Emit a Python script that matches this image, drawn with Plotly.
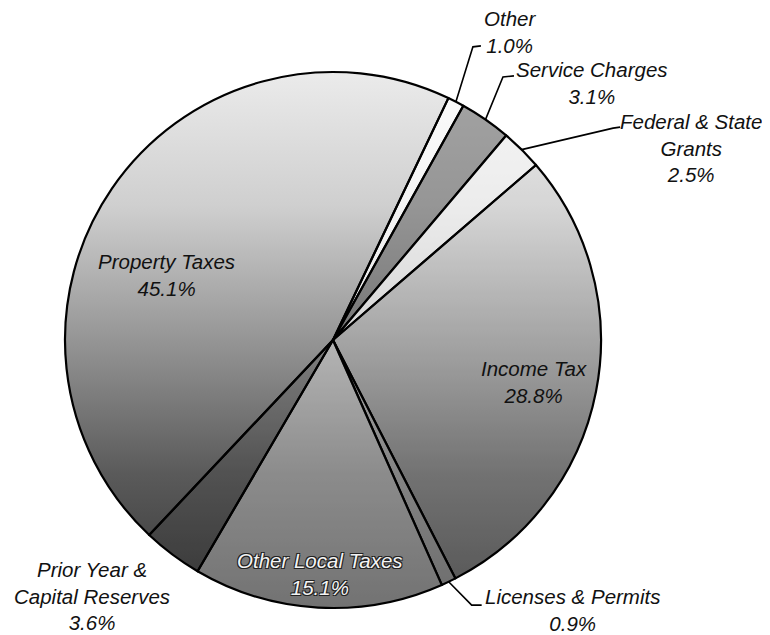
import numpy as np
import plotly.graph_objects as go

# ---------------- data ----------------
categories = ["Other", "Service Charges", "Federal & State Grants", "Income Tax",
              "Licenses & Permits", "Other Local Taxes",
              "Prior Year & Capital Reserves", "Property Taxes"]
values = [1.0, 3.1, 2.5, 28.8, 0.9, 15.1, 3.6, 45.1]
label_lines = ["Other", "Service Charges", "Federal & State<br>Grants", "Income Tax",
               "Licenses & Permits", "Other Local Taxes",
               "Prior Year &<br>Capital Reserves", "Property Taxes"]

# ---------------- styling ----------------
OFF = 8                      # page body margin in the browser
W, H = 770 - OFF, 635 - OFF
CX, CY, R = 333 - OFF, 340 - OFF, 268   # pie centre / radius in figure pixels
ROTATION = 25.5
slice_colors = ["rgba(255,255,255,0.78)", "rgba(80,80,80,0.45)", "rgba(255,255,255,0.6)",
                "rgba(255,255,255,0.15)", "rgba(210,210,210,0.35)", "rgba(255,255,255,0.3)",
                "rgba(50,50,50,0.2)", "rgba(0,0,0,0.0)"]

# label centres (screen pixels of the reference)
label_pos = {
    "Other": (510, 32),
    "Service Charges": (592, 83),
    "Federal & State Grants": (691, 148),
    "Income Tax": (534, 382),
    "Licenses & Permits": (572, 610),
    "Other Local Taxes": (320, 574),
    "Prior Year & Capital Reserves": (92, 596),
    "Property Taxes": (166, 275),
}
# leader line bends (screen pixels relative to slice edge point)
leaders = {
    "Other": [(17, -55), (25, -56)],
    "Service Charges": [(17.5, -42.7), (28.5, -43.7)],
    "Federal & State Grants": [(91.5, -21.5), (98.5, -22.5)],
    "Licenses & Permits": [(23, 23.4), (33, 23.4)],
}

FONT = "Liberation Sans, Arial, sans-serif"
FS = 20.5

L_M, B_M = CX - R, H - (CY + R)
SIDE = 2 * R


def to_paper(px, py):
    return (px - OFF - L_M) / SIDE, (H - B_M - (py - OFF)) / SIDE


fig = go.Figure()

# gradient disc underneath the pie (shading like the original's photo fill)
t = np.linspace(0, 2 * np.pi, 361)
fig.add_trace(go.Scatter(
    x=np.sin(t), y=np.cos(t), mode="lines", fill="toself",
    line=dict(width=0, color="rgba(0,0,0,0)"),
    fillgradient=dict(type="vertical",
                      colorscale=[[0, "#363636"], [0.25, "#5a5a5a"], [0.5, "#959595"],
                                  [0.75, "#cfcfcf"], [1, "#ebebeb"]]),
    hoverinfo="skip", showlegend=False))

fig.add_trace(go.Pie(
    labels=categories, values=values, sort=False, direction="clockwise",
    rotation=ROTATION, textinfo="none", hoverinfo="label+percent",
    marker=dict(colors=slice_colors, line=dict(color="black", width=2.2)),
    showlegend=False))

# label annotations and leader lines
vals = np.array(values)
total = vals.sum()
mid = np.radians(ROTATION + (np.cumsum(vals) - vals / 2) / total * 360)

annotations = []
shapes = []
for i, cat in enumerate(categories):
    x, y = to_paper(*label_pos[cat])
    txt = f"{label_lines[i]}<br>{values[i]:.1f}%"
    font = dict(family=FONT, size=FS, color="#111111", style="italic")
    if cat == "Other Local Taxes":
        font = dict(family=FONT, size=FS, color="#f4f4f4", style="italic",
                    shadow="1px 1px 0 #222, -1px -1px 0 #222, 1px -1px 0 #222, -1px 1px 0 #222")
    annotations.append(dict(x=x, y=y, xref="paper", yref="paper",
                            xanchor="center", yanchor="middle",
                            text=txt, showarrow=False, font=font, align="center"))
    if cat in leaders:
        tx, ty = 0.5 + 0.5 * np.sin(mid[i]), 0.5 + 0.5 * np.cos(mid[i])
        path = "M0,0 " + " ".join(f"L{dx},{-dy}" for dx, dy in leaders[cat])
        shapes.append(dict(type="path", xref="paper", yref="paper", xsizemode="pixel",
                           ysizemode="pixel", xanchor=tx, yanchor=ty, path=path,
                           line=dict(color="black", width=1.6)))

fig.update_layout(
    width=W, height=H,
    margin=dict(l=L_M, r=W - (CX + R), t=CY - R, b=B_M),
    paper_bgcolor="white", plot_bgcolor="white",
    xaxis=dict(range=[-1, 1], visible=False, fixedrange=True),
    yaxis=dict(range=[-1, 1], visible=False, fixedrange=True),
    annotations=annotations, shapes=shapes,
)

fig.write_html("out.html")
